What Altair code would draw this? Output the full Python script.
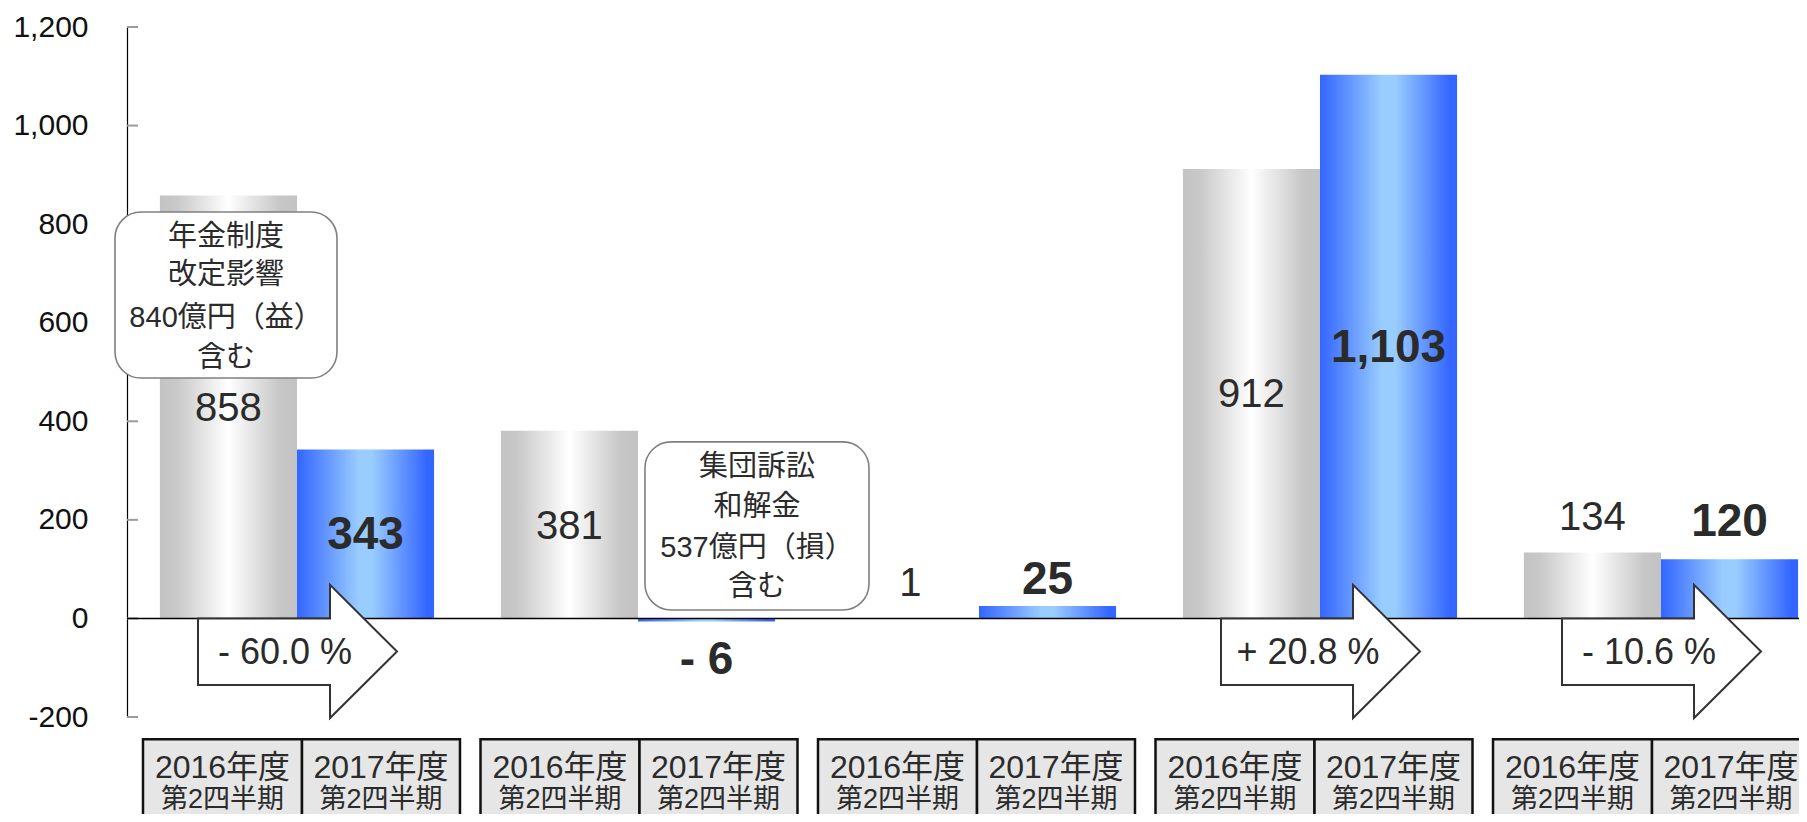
import altair as alt
import pandas as pd

# ---------------- data ----------------
group_index = [0, 1, 2, 3, 4]
prev_values = [858, 381, 1, 912, 134]          # 2016年度 第2四半期
curr_values = [343, -6, 25, 1103, 120]         # 2017年度 第2四半期
change_labels = ["- 60.0 %", "", "", "+ 20.8 %", "- 10.6 %"]
period_prev = "2016年度"
period_curr = "2017年度"
period_sub = "第2四半期"
y_tick_values = [-200, 0, 200, 400, 600, 800, 1000, 1200]
callout_1 = ["年金制度", "改定影響", "840億円（益）", "含む"]
callout_2 = ["集団訴訟", "和解金", "537億円（損）", "含む"]

# ---------------- layout ----------------
W, H = 1672, 690
X_MIN, X_MAX = -0.4985, 4.4047
BAR_W = 0.402
prev_label_y = [424, 186, 70, 453, 204]
curr_label_y = [169, -84, 78, 548, 196]
# arrow outline: (dx, y_top, y_bottom), ordered along x
ARROW = [(-0.2903, 0, -135), (0.0968, 0, -135), (0.0969, 68, -202), (0.2933, -67, -67)]
BOX_STEP, BOX_OFF = 0.98974, -0.4516
BOX_L, BOX_R = 0.4663, 0.4633
BOX_TOP, BOX_BOT = -245, -445
LATIN = "Liberation Sans"
MIXED = "Liberation Sans, Noto Sans CJK JP"
TXT = "#2b2b2b"

xs = alt.Scale(domain=[X_MIN, X_MAX], nice=False, zero=False)
ys = alt.Scale(domain=[-200, 1200], nice=False, zero=False)
YAX = alt.Axis(values=y_tick_values,
               labelExpr="datum.value < 0 ? '-' + format(-datum.value, ',') : format(datum.value, ',')",
               labelFont=LATIN, labelFontSize=30,
               labelColor="#111111", ticks=False, tickSize=0, labelPadding=39,
               domainColor="#000000", domainWidth=1.2, grid=False)

def X(f):
    return alt.X(f, type="quantitative", scale=xs, axis=None)

def Y(f):
    return alt.Y(f, type="quantitative", scale=ys, axis=YAX, title=None)

def fmt(v):
    return f"- {abs(v):,}" if v < 0 else f"{v:,}"

gray_grad = alt.Gradient(gradient="linear", x1=0, x2=1, y1=0, y2=0, stops=[
    alt.GradientStop(color="#c3c3c3", offset=0),
    alt.GradientStop(color="#c8c8c8", offset=0.12),
    alt.GradientStop(color="#ffffff", offset=0.5),
    alt.GradientStop(color="#c6c6c6", offset=0.88),
    alt.GradientStop(color="#c3c3c3", offset=1)])
blue_grad = alt.Gradient(gradient="linear", x1=0, x2=1, y1=0, y2=0, stops=[
    alt.GradientStop(color="#3366ff", offset=0),
    alt.GradientStop(color="#4477ff", offset=0.08),
    alt.GradientStop(color="#99ccff", offset=0.45),
    alt.GradientStop(color="#99ccff", offset=0.55),
    alt.GradientStop(color="#3366ff", offset=0.95),
    alt.GradientStop(color="#3366ff", offset=1)])

prev_df = pd.DataFrame({"x0": [g - BAR_W for g in group_index], "x1": group_index,
                        "v": prev_values, "z": 0})
curr_df = pd.DataFrame({"x0": group_index, "x1": [g + BAR_W for g in group_index],
                        "v": curr_values, "z": 0})

# axis layer (tick marks pointing into the plot)
tick_df = pd.DataFrame({"t": y_tick_values})
axis_layer = alt.Chart(tick_df).mark_rule(color="#9a9a9a", strokeWidth=2).encode(
    y=Y("t"), x=alt.value(0), x2=alt.value(11))

prev_bars = alt.Chart(prev_df).mark_rect(fill=gray_grad).encode(
    x=X("x0"), x2="x1", y=Y("v"), y2="z")
curr_bars = alt.Chart(curr_df).mark_rect(fill=blue_grad).encode(
    x=X("x0"), x2="x1", y=Y("v"), y2="z")

zero_line = alt.Chart(pd.DataFrame({"z": [0]})).mark_rule(color="#000000", strokeWidth=1.5).encode(
    y=Y("z"), x=alt.value(0), x2=alt.value(W))

# change arrows
arrow_rows = []
for g, lab in zip(group_index, change_labels):
    if lab:
        for dx, ya, yb in ARROW:
            arrow_rows.append({"arrow": g, "ax": g + dx, "ay": ya, "ay2": yb})
arrow_df = pd.DataFrame(arrow_rows)
arrows = alt.Chart(arrow_df).mark_area(fill="#ffffff", stroke="#333333", strokeWidth=2,
                                       strokeJoin="miter", opacity=1).encode(
    x=X("ax"), y=Y("ay"), y2="ay2", detail="arrow:N")
chg_df = pd.DataFrame({"x": [g - 0.035 for g, l in zip(group_index, change_labels) if l],
                       "y": [-70 for l in change_labels if l],
                       "t": [l for l in change_labels if l]})
chg_text = alt.Chart(chg_df).mark_text(font=LATIN, fontSize=36, color=TXT, align="center",
                                       baseline="middle").encode(x=X("x"), y=Y("y"), text="t:N")

# callout boxes
call_df = pd.DataFrame({"x0": [-0.5337, 1.0205], "x1": [0.1173, 1.6774],
                        "y0": [824.5, 358.3], "y1": [487.7, 17.0]})
callouts = alt.Chart(call_df).mark_rect(fill="#ffffff", stroke="#808080", strokeWidth=1.6,
                                        cornerRadius=26).encode(
    x=X("x0"), x2="x1", y=Y("y0"), y2="y1")
ct_rows = []
for xc, lines, ypos in [(-0.208, callout_1, [774, 697, 609, 528]),
                        (1.349, callout_2, [307, 226, 143, 64])]:
    for line, yy in zip(lines, ypos):
        ct_rows.append({"x": xc, "y": yy, "t": line})
callout_text = alt.Chart(pd.DataFrame(ct_rows)).mark_text(
    font=MIXED, fontSize=29, color=TXT, align="center", baseline="middle").encode(
    x=X("x"), y=Y("y"), text="t:N")

# value labels
prev_lab = pd.DataFrame({"x": [g - BAR_W / 2 for g in group_index], "y": prev_label_y,
                         "t": [fmt(v) for v in prev_values]})
curr_lab = pd.DataFrame({"x": [g + BAR_W / 2 for g in group_index], "y": curr_label_y,
                         "t": [fmt(v) for v in curr_values]})
prev_text = alt.Chart(prev_lab).mark_text(font=LATIN, fontSize=40, color=TXT, align="center",
                                          baseline="middle").encode(x=X("x"), y=Y("y"), text="t:N")
curr_text = alt.Chart(curr_lab).mark_text(font=LATIN, fontSize=46, fontWeight="bold", color=TXT,
                                          align="center", baseline="middle").encode(
    x=X("x"), y=Y("y"), text="t:N")

# category boxes
cell_rows, cat_rows = [], []
for g in group_index:
    left = g * BOX_STEP + BOX_OFF
    mid = left + BOX_L
    right = mid + BOX_R
    cell_rows.append({"x0": left, "x1": mid, "y0": BOX_TOP, "y1": BOX_BOT})
    cell_rows.append({"x0": mid, "x1": right, "y0": BOX_TOP, "y1": BOX_BOT})
    cat_rows.append({"x": (left + mid) / 2, "t1": period_prev, "t2": period_sub})
    cat_rows.append({"x": (mid + right) / 2, "t1": period_curr, "t2": period_sub})
cells = alt.Chart(pd.DataFrame(cell_rows)).mark_rect(fill="#e6e6e6", stroke="#111111",
                                                     strokeWidth=2.5).encode(
    x=X("x0"), x2="x1", y=Y("y0"), y2="y1")
cat_df = pd.DataFrame(cat_rows)
cat_df["y1"] = -304
cat_df["y2"] = -369
cat_text1 = alt.Chart(cat_df).mark_text(font=MIXED, fontSize=32, color=TXT, align="center",
                                        baseline="middle").encode(x=X("x"), y=Y("y1"), text="t1:N")
cat_text2 = alt.Chart(cat_df).mark_text(font=MIXED, fontSize=27, color=TXT, align="center",
                                        baseline="middle").encode(x=X("x"), y=Y("y2"), text="t2:N")

chart = alt.layer(
    axis_layer, prev_bars, curr_bars, zero_line, arrows, chg_text, callouts, callout_text,
    prev_text, curr_text, cells, cat_text1, cat_text2
).properties(
    width=W, height=H,
    autosize=alt.AutoSizeParams(type="none"),
    padding={"left": 119, "top": 19, "right": 0, "bottom": 97},
    background="#ffffff",
).configure_view(stroke=None)

chart.save("out.html", embed_options={"renderer": "svg", "actions": False})
